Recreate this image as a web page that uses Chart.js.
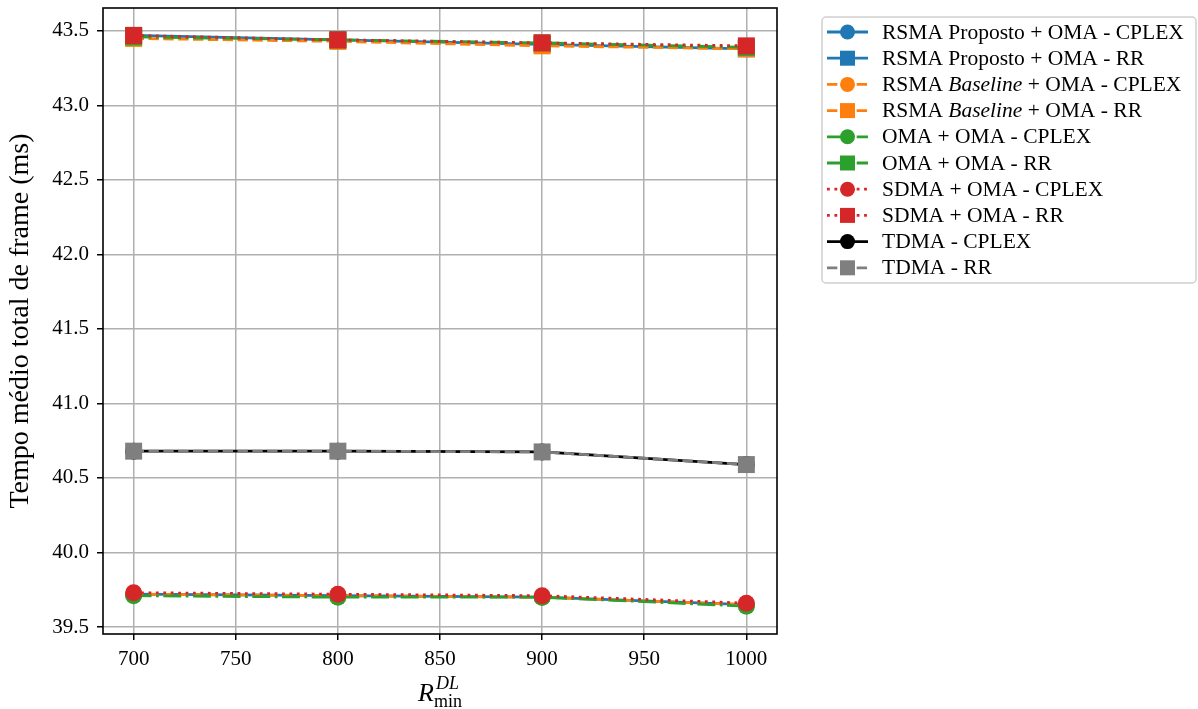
<!DOCTYPE html>
<html>
<head>
<meta charset="utf-8">
<script src="https://cdn.jsdelivr.net/npm/chart.js@4/dist/chart.umd.min.js"></script>
<style>
  html, body { margin: 0; padding: 0; background: #fff; }
  #myChart { display: block; }
</style>
</head>
<body>
<canvas id="myChart" width="1198" height="709"></canvas>
<script>
// valores lidos por R_min^DL
const rates = [700, 800, 900, 1000];
const xTicks = [700, 750, 800, 850, 900, 950, 1000];
const yTicks = [39.5, 40.0, 40.5, 41.0, 41.5, 42.0, 42.5, 43.0, 43.5];

const rsmaPropCplex = [39.72, 39.71, 39.70, 39.65];
const rsmaPropRr    = [43.47, 43.44, 43.41, 43.38];
const rsmaBaseCplex = [39.72, 39.71, 39.70, 39.65];
const rsmaBaseRr    = [43.45, 43.43, 43.40, 43.38];
const omaCplex      = [39.71, 39.70, 39.70, 39.64];
const omaRr         = [43.46, 43.44, 43.42, 43.39];
const sdmaCplex     = [39.73, 39.72, 39.71, 39.66];
const sdmaRr        = [43.47, 43.44, 43.42, 43.40];
const tdmaCplex     = [40.68, 40.68, 40.675, 40.59];
const tdmaRr        = [40.68, 40.68, 40.675, 40.59];

// texto entre * fica em itálico na legenda
const seriesLabels = [
  "RSMA Proposto + OMA - CPLEX",
  "RSMA Proposto + OMA - RR",
  "RSMA *Baseline* + OMA - CPLEX",
  "RSMA *Baseline* + OMA - RR",
  "OMA + OMA - CPLEX",
  "OMA + OMA - RR",
  "SDMA + OMA - CPLEX",
  "SDMA + OMA - RR",
  "TDMA - CPLEX",
  "TDMA - RR"
];

const FONT = "'Liberation Serif', 'Times New Roman', serif";
const LW = 2.8;
const DASHED = [3.7 * LW, 1.6 * LW];
const DASHDOT = [6.4 * LW, 1.6 * LW, 1 * LW, 1.6 * LW];
const DOTTED = [1 * LW, 1.65 * LW];

function pts(values) {
  return values.map((v, i) => ({ x: rates[i], y: v }));
}

function serie(idx, values, color, dash, marker) {
  return {
    label: seriesLabels[idx],
    data: pts(values),
    borderColor: color,
    backgroundColor: color,
    borderWidth: LW,
    borderDash: dash,
    pointStyle: marker,
    pointRadius: marker === 'rect' ? 12 : 8.5,
    pointBorderWidth: 0,
    pointBackgroundColor: color,
    pointHoverRadius: 0,
    tension: 0,
    order: 10 - idx
  };
}

const datasets = [
  serie(0, rsmaPropCplex, '#1f77b4', [], 'circle'),
  serie(1, rsmaPropRr,    '#1f77b4', [], 'rect'),
  serie(2, rsmaBaseCplex, '#ff7f0e', DASHED, 'circle'),
  serie(3, rsmaBaseRr,    '#ff7f0e', DASHED, 'rect'),
  serie(4, omaCplex,      '#2ca02c', DASHDOT, 'circle'),
  serie(5, omaRr,         '#2ca02c', DASHDOT, 'rect'),
  serie(6, sdmaCplex,     '#d62728', DOTTED, 'circle'),
  serie(7, sdmaRr,        '#d62728', DOTTED, 'rect'),
  serie(8, tdmaCplex,     '#000000', [], 'circle'),
  serie(9, tdmaRr,        '#7f7f7f', DASHED, 'rect')
];

// moldura, títulos dos eixos e legenda desenhados à mão
const extras = {
  id: 'extras',
  afterDraw(chart) {
    const ctx = chart.ctx;
    const a = chart.chartArea;
    ctx.save();

    ctx.strokeStyle = '#000';
    ctx.lineWidth = 1.6;
    ctx.strokeRect(a.left, a.top, a.right - a.left, a.bottom - a.top);

    // título do eixo y
    ctx.fillStyle = '#000';
    ctx.font = "28px " + FONT;
    ctx.textAlign = 'center';
    ctx.textBaseline = 'middle';
    ctx.save();
    ctx.translate(21, (a.top + a.bottom) / 2);
    ctx.rotate(-Math.PI / 2);
    ctx.fillText('Tempo médio total de frame (ms)', 0, 0);
    ctx.restore();

    // título do eixo x: R^{DL}_{min}
    const cx = (a.left + a.right) / 2;
    ctx.textAlign = 'left';
    ctx.textBaseline = 'alphabetic';
    ctx.font = "italic 26px " + FONT;
    const rW = ctx.measureText('R').width;
    ctx.font = "italic 18px " + FONT;
    const supW = ctx.measureText('DL').width;
    ctx.font = "18px " + FONT;
    const subW = ctx.measureText('min').width;
    const x0 = cx - (rW + Math.max(supW, subW)) / 2;
    ctx.font = "italic 26px " + FONT;
    ctx.fillText('R', x0, 701);
    ctx.font = "italic 18px " + FONT;
    ctx.fillText('DL', x0 + rW + 2, 689);
    ctx.font = "18px " + FONT;
    ctx.fillText('min', x0 + rW, 707);

    // legenda
    const bx = 822, by = 17, bw = 374, bh = 266, r = 4;
    ctx.beginPath();
    ctx.moveTo(bx + r, by);
    ctx.arcTo(bx + bw, by, bx + bw, by + bh, r);
    ctx.arcTo(bx + bw, by + bh, bx, by + bh, r);
    ctx.arcTo(bx, by + bh, bx, by, r);
    ctx.arcTo(bx, by, bx + bw, by, r);
    ctx.closePath();
    ctx.fillStyle = '#fff';
    ctx.fill();
    ctx.strokeStyle = '#d0d0d0';
    ctx.lineWidth = 1.5;
    ctx.stroke();

    chart.data.datasets.forEach((ds, i) => {
      const y = 32 + i * 26.2;
      ctx.strokeStyle = ds.borderColor;
      ctx.lineWidth = ds.borderWidth;
      ctx.setLineDash(ds.borderDash);
      ctx.beginPath();
      ctx.moveTo(827, y);
      ctx.lineTo(868, y);
      ctx.stroke();
      ctx.setLineDash([]);
      ctx.fillStyle = ds.borderColor;
      if (ds.pointStyle === 'rect') {
        ctx.fillRect(847.5 - 7.5, y - 7.5, 15, 15);
      } else {
        ctx.beginPath();
        ctx.arc(847.5, y, 7.5, 0, Math.PI * 2);
        ctx.fill();
      }
      ctx.fillStyle = '#000';
      ctx.textBaseline = 'middle';
      let tx = 882;
      ds.label.split('*').forEach((part, k) => {
        ctx.font = (k % 2 ? 'italic ' : '') + '21.5px ' + FONT;
        ctx.fillText(part, tx, y + 1);
        tx += ctx.measureText(part).width;
      });
    });

    ctx.restore();
  }
};

const config = {
  type: 'line',
  data: { datasets: datasets },
  options: {
    responsive: false,
    devicePixelRatio: 1,
    animation: false,
    layout: { autoPadding: false, padding: { top: 8, right: 421, left: 0, bottom: 0 } },
    plugins: {
      legend: { display: false },
      tooltip: { enabled: false }
    },
    scales: {
      x: {
        type: 'linear',
        min: 685,
        max: 1015,
        afterBuildTicks: (s) => { s.ticks = xTicks.map(v => ({ value: v })); },
        afterFit: (s) => { s.height = 75; s.paddingLeft = 0; s.paddingRight = 0; },
        border: { display: false },
        grid: { color: '#b0b0b0', lineWidth: 1.5, tickColor: '#000', tickLength: 6, tickWidth: 1.5 },
        ticks: {
          color: '#000',
          font: { family: FONT, size: 21 },
          padding: 7,
          maxRotation: 0,
          callback: (v) => String(v)
        }
      },
      y: {
        type: 'linear',
        min: 39.453,
        max: 43.654,
        afterBuildTicks: (s) => { s.ticks = yTicks.map(v => ({ value: v })); },
        afterFit: (s) => { s.width = 103; s.paddingTop = 0; s.paddingBottom = 0; },
        border: { display: false },
        grid: { color: '#b0b0b0', lineWidth: 1.5, tickColor: '#000', tickLength: 6, tickWidth: 1.5 },
        ticks: {
          color: '#000',
          font: { family: FONT, size: 21 },
          padding: 8,
          callback: (v) => v.toFixed(1)
        }
      }
    }
  },
  plugins: [extras]
};

const context = document.getElementById('myChart').getContext('2d');
const chart = new Chart(context, config);
</script>
</body>
</html>
